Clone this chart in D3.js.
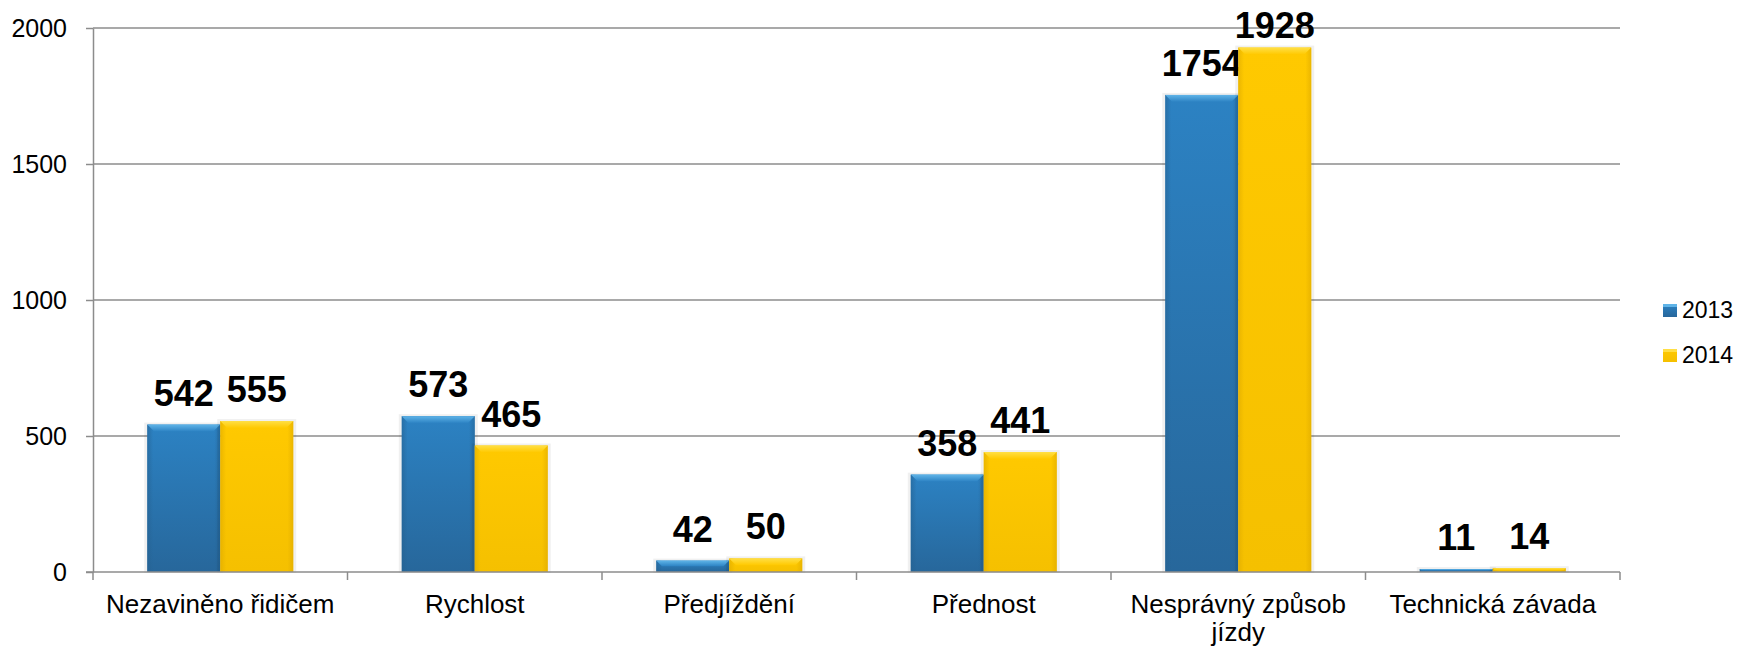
<!DOCTYPE html>
<html>
<head>
<meta charset="utf-8">
<script src="https://cdn.jsdelivr.net/npm/d3@7"></script>
<style>
    body { margin: 0; background: #fff; }
    svg { display: block; font-family: "Liberation Sans", Arial, sans-serif; }
</style>
</head>
<body>
<div id="chart"></div>
<script>
//~~~~~~~~~~~~~~~~~~~~~~~~~~~~~~~~~~~~
// Data
//~~~~~~~~~~~~~~~~~~~~~~~~~~~~~~~~~~~~
const categories = ["Nezaviněno řidičem", "Rychlost", "Předjíždění", "Přednost", "Nesprávný způsob jízdy", "Technická závada"];
const seriesNames = ["2013", "2014"];
const values2013 = [542, 573, 42, 358, 1754, 11];
const values2014 = [555, 465, 50, 441, 1928, 14];
const yTicks = [0, 500, 1000, 1500, 2000];

//~~~~~~~~~~~~~~~~~~~~~~~~~~~~~~~~~~~~
// Chart
//~~~~~~~~~~~~~~~~~~~~~~~~~~~~~~~~~~~~
function createBarChart() {
    const width = 1758;
    const height = 649;
    const margin = {top: 28, right: 138, bottom: 77, left: 93};
    const gridColor = "#8c8c8c";

    const series = [
        {name: seriesNames[0], values: values2013, base: "#2c82c3", dark: "#27679b", light: "#5fb4e8", edge: "#24608f"},
        {name: seriesNames[1], values: values2014, base: "#ffc900", dark: "#f5c000", light: "#ffdf45", edge: "#dba700"}
    ];

    const svg = d3.select("#chart")
        .append("svg")
        .attr("width", width)
        .attr("height", height);

    const x0 = d3.scaleBand()
        .domain(categories)
        .range([margin.left, width - margin.right])
        .padding(0);

    const x1 = d3.scaleBand()
        .domain(seriesNames)
        .range([0, x0.bandwidth()])
        .paddingInner(0)
        .paddingOuter(0.743);

    const y = d3.scaleLinear()
        .domain([0, 2000])
        .range([height - margin.bottom, margin.top]);

    // gradients for bars
    const defs = svg.append("defs");
    series.forEach((s, i) => {
        const g = defs.append("linearGradient")
            .attr("id", "grad" + i)
            .attr("x1", 0).attr("y1", 0).attr("x2", 0).attr("y2", 1);
        g.append("stop").attr("offset", "0%").attr("stop-color", s.base);
        g.append("stop").attr("offset", "100%").attr("stop-color", s.dark);
        const h = defs.append("linearGradient")
            .attr("id", "hgrad" + i)
            .attr("x1", 0).attr("y1", 0).attr("x2", 1).attr("y2", 0);
        h.append("stop").attr("offset", "0%").attr("stop-color", s.edge).attr("stop-opacity", 0.55);
        h.append("stop").attr("offset", "8%").attr("stop-color", s.edge).attr("stop-opacity", 0);
        h.append("stop").attr("offset", "92%").attr("stop-color", s.edge).attr("stop-opacity", 0);
        h.append("stop").attr("offset", "100%").attr("stop-color", s.edge).attr("stop-opacity", 0.55);
        const b = defs.append("linearGradient")
            .attr("id", "bgrad" + i)
            .attr("x1", 0).attr("y1", 0).attr("x2", 0).attr("y2", 1);
        b.append("stop").attr("offset", "0%").attr("stop-color", s.light);
        b.append("stop").attr("offset", "100%").attr("stop-color", s.base);
    });

    // gridlines
    svg.append("g")
        .selectAll("line")
        .data(yTicks.filter(d => d > 0))
        .join("line")
        .attr("x1", margin.left)
        .attr("x2", width - margin.right)
        .attr("y1", d => y(d))
        .attr("y2", d => y(d))
        .attr("stroke", gridColor)
        .attr("stroke-width", 1.5);

    // y axis
    const yAxis = svg.append("g")
        .attr("transform", `translate(${margin.left},0)`)
        .call(d3.axisLeft(y).tickValues(yTicks).tickFormat(d3.format("d"))
            .tickSize(7).tickPadding(19).tickSizeOuter(0));
    yAxis.select(".domain").attr("stroke", gridColor).attr("stroke-width", 1.5);
    yAxis.selectAll(".tick line").attr("stroke", gridColor).attr("stroke-width", 1.5);
    yAxis.selectAll(".tick text")
        .attr("fill", "#000")
        .style("font-size", "25px")
        .style("font-family", "Liberation Sans, Arial, sans-serif");

    // bars
    const groups = svg.append("g")
        .selectAll("g")
        .data(categories)
        .join("g")
        .attr("transform", d => `translate(${x0(d)},0)`);

    series.forEach((s, si) => {
        const bars = groups.append("g");
        const bx = x1(s.name);
        const bw = x1.bandwidth();

        // soft shadow
        bars.append("rect")
            .attr("x", bx - 3)
            .attr("y", (d, i) => y(s.values[i]) - 2)
            .attr("width", bw + 6)
            .attr("height", (d, i) => y(0) - y(s.values[i]) + 3)
            .attr("fill", "#000")
            .attr("opacity", 0.06);

        bars.append("rect")
            .attr("x", bx)
            .attr("y", (d, i) => y(s.values[i]))
            .attr("width", bw)
            .attr("height", (d, i) => y(0) - y(s.values[i]))
            .attr("fill", `url(#grad${si})`);

        bars.append("rect")
            .attr("x", bx)
            .attr("y", (d, i) => y(s.values[i]))
            .attr("width", bw)
            .attr("height", (d, i) => y(0) - y(s.values[i]))
            .attr("fill", `url(#hgrad${si})`);

        // top bevel
        bars.append("path")
            .attr("d", (d, i) => {
                const top = y(s.values[i]);
                const bev = Math.min(7, (y(0) - top) / 2);
                return `M${bx},${top}L${bx + bw},${top}L${bx + bw - bev},${top + bev}L${bx + bev},${top + bev}Z`;
            })
            .attr("fill", `url(#bgrad${si})`);

        // value labels
        bars.append("text")
            .attr("x", bx + bw / 2)
            .attr("y", (d, i) => Math.max(y(s.values[i]) - 19, 38))
            .attr("text-anchor", "middle")
            .style("font-size", "36px")
            .style("font-weight", "bold")
            .attr("fill", "#000")
            .text((d, i) => s.values[i]);
    });

    // x axis
    const xAxis = svg.append("g")
        .attr("transform", `translate(0,${y(0)})`);
    xAxis.append("line")
        .attr("x1", margin.left - 7)
        .attr("x2", width - margin.right)
        .attr("stroke", gridColor)
        .attr("stroke-width", 1.5);
    xAxis.selectAll(".cat-tick")
        .data(categories.concat([null]))
        .join("line")
        .attr("class", "cat-tick")
        .attr("x1", (d, i) => i < categories.length ? x0(d) : x0(categories[i - 1]) + x0.bandwidth())
        .attr("x2", (d, i) => i < categories.length ? x0(d) : x0(categories[i - 1]) + x0.bandwidth())
        .attr("y1", 0)
        .attr("y2", 8)
        .attr("stroke", gridColor)
        .attr("stroke-width", 1.5);

    const catText = xAxis.selectAll(".cat-label")
        .data(categories)
        .join("text")
        .attr("class", "cat-label")
        .attr("x", d => x0(d) + x0.bandwidth() / 2)
        .attr("y", 41)
        .attr("text-anchor", "middle")
        .style("font-size", "26px")
        .attr("fill", "#000");
    catText.each(function(d) {
        wrap(d3.select(this), d, 245, 28);
    });

    // legend
    const legend = svg.append("g")
        .attr("transform", "translate(1663,304)");
    const li = legend.selectAll("g")
        .data(series)
        .join("g")
        .attr("transform", (d, i) => `translate(0,${i * 45})`);
    li.append("rect")
        .attr("width", 14)
        .attr("height", 13)
        .attr("fill", (d, i) => `url(#grad${i})`);
    li.append("rect")
        .attr("width", 14)
        .attr("height", 3)
        .attr("fill", d => d.light);
    li.append("text")
        .attr("x", 19)
        .attr("y", 14)
        .style("font-size", "23px")
        .attr("fill", "#000")
        .text(d => d.name);
}

function wrap(text, label, maxWidth, lineHeight) {
    const words = label.split(/\s+/);
    const x = text.attr("x");
    let line = [];
    let tspan = text.append("tspan").attr("x", x).attr("dy", 0);
    words.forEach(w => {
        line.push(w);
        tspan.text(line.join(" "));
        if (tspan.node().getComputedTextLength() > maxWidth && line.length > 1) {
            line.pop();
            tspan.text(line.join(" "));
            line = [w];
            tspan = text.append("tspan").attr("x", x).attr("dy", lineHeight).text(w);
        }
    });
}

createBarChart();
</script>
</body>
</html>
